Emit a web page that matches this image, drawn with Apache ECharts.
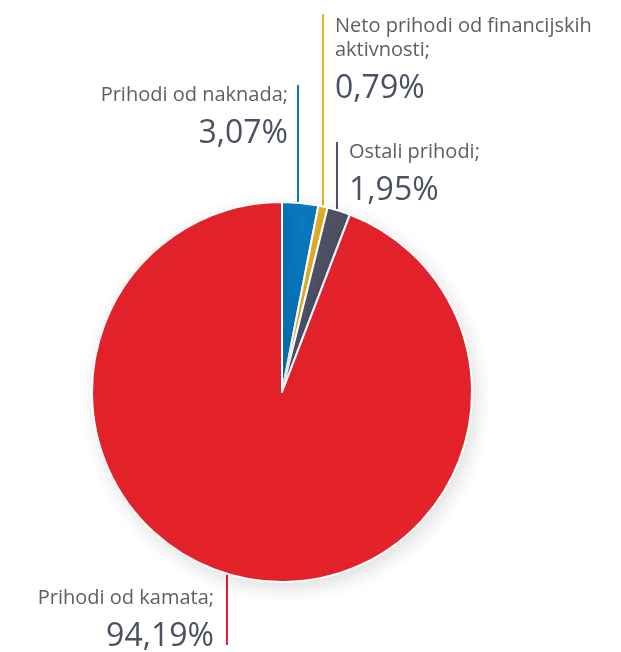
<!DOCTYPE html>
<html>
<head>
<meta charset="UTF-8">
<title>Struktura prihoda</title>
<script src="https://cdn.jsdelivr.net/npm/echarts@6/dist/echarts.min.js"></script>
<style>
  html, body { margin: 0; padding: 0; background: #fff; }
</style>
</head>
<body>
<div id="main" style="width:621px;height:652px;"></div>
<script type="text/javascript">
// podaci
var names = ['Prihodi od naknada;', 'Neto prihodi od financijskih\naktivnosti;', 'Ostali prihodi;', 'Prihodi od kamata;'];
var values = [3.07, 0.79, 1.95, 94.19];
var percentLabels = ['3,07%', '0,79%', '1,95%', '94,19%'];
var colors = ['#0a7bc1', '#e4b22a', '#4f5266', '#e4232b'];

// where the vertical leader lines go, and where the text sits
var lineX = [298, 323, 337, 227];
var lineEndY = [85, 14, 142, 645];
var labelPos = [
  { x: 288, y: 83, align: 'right' },
  { x: 335, y: 14, align: 'left' },
  { x: 349, y: 140, align: 'left' },
  { x: 214, y: 586, align: 'right' }
];

var cx = 282, cy = 392, r = 190;

var myChart = echarts.init(document.getElementById('main'));

var data = names.map(function (n, i) {
  return { name: n, value: values[i], itemStyle: { color: colors[i] } };
});

myChart.setOption({
  backgroundColor: '#fff',
  animation: false,
  series: [{
    type: 'pie',
    center: [cx, cy],
    radius: r,
    startAngle: 90,
    clockwise: true,
    avoidLabelOverlap: false,
    itemStyle: {
      borderColor: '#fff',
      borderWidth: 2,
      shadowBlur: 18,
      shadowOffsetX: 4,
      shadowOffsetY: 6,
      shadowColor: 'rgba(0,0,0,0.12)'
    },
    label: {
      show: true,
      position: 'outside',
      formatter: function (p) {
        var lines = names[p.dataIndex].split('\n').map(function (s) { return '{n|' + s + '}'; });
        return lines.join('\n') + '\n{p|' + percentLabels[p.dataIndex] + '}';
      },
      rich: {
        n: { fontFamily: 'Open Sans', fontSize: 20, color: '#5b6161', lineHeight: 24 },
        p: { fontFamily: 'Open Sans', fontSize: 32, color: '#4b5062', lineHeight: 54 }
      }
    },
    labelLine: {
      show: true,
      lineStyle: { width: 2 }
    },
    labelLayout: function (params) {
      var i = params.dataIndex;
      var x = lineX[i];
      var dx = x - cx;
      var dy = Math.sqrt(r * r - dx * dx);
      var y0 = lineEndY[i] < cy ? cy - dy : cy + dy;
      return {
        x: labelPos[i].x,
        y: labelPos[i].y,
        align: labelPos[i].align,
        verticalAlign: 'top',
        labelLinePoints: [[x, y0], [x, y0], [x, lineEndY[i]]]
      };
    },
    data: data
  }]
});
</script>
</body>
</html>
